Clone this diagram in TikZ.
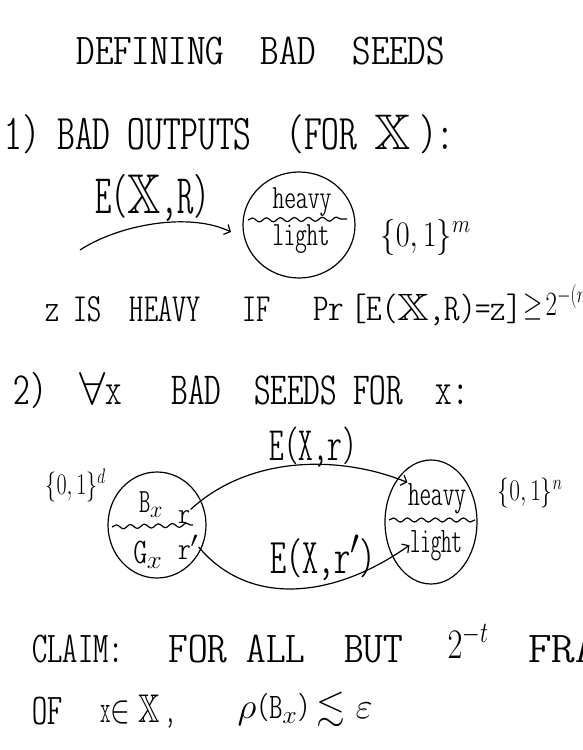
\RequirePackage{fix-cm}
\documentclass[tikz,border=0pt]{standalone}
\usepackage{amssymb}
\usepackage{graphicx}
\usepackage{fontspec}
\newfontfamily\hand{lmmonoltcond10-regular.otf}
\usetikzlibrary{arrows.meta,decorations.pathmorphing}
\newcommand\hw[3]{\resizebox{#1pt}{\height}{\fontsize{#2pt}{#2pt}\selectfont #3}}
\begin{document}
\begin{tikzpicture}[x=1pt,y=-1pt, line width=1.2pt,
  txt/.style={inner sep=0pt, anchor=base west, font=\hand},
  lbl/.style={inner sep=0pt, anchor=base, font=\hand},
  wavy/.style={decorate, decoration={snake, amplitude=2pt, segment length=14pt}},
  tip/.style={-{Straight Barb[length=5pt,width=11pt]}}]
\path[use as bounding box] (0,0) rectangle (582,750);
\clip (0,0) rectangle (582,750);
% title
\node[txt] (title) at (76,64) {\hw{368}{44}{DEFINING\ \ BAD\ \ SEEDS}};
% part 1
\node[txt] (one) at (4,149) {\hw{450}{50}{1)\ BAD OUTPUTS\ \ (FOR $\mathbb{X}$\,):}};
\node[txt] (exr) at (95,213) {\hw{114}{56}{E($\mathbb{X}$,R)}};
\coordinate (c1) at (299,225);
\draw (c1) ellipse [x radius=56pt, y radius=53pt];
\node[lbl] (hv1) at (302,208) {\hw{59}{34}{heavy}};
\node[lbl] (lt1) at (301,245) {\hw{57}{34}{light}};
\draw[wavy] (248,220) -- (347,219);
\coordinate (a0) at (80,250);
\coordinate (a1) at (231,232);
\draw[tip] (a0) .. controls (120,224) and (190,212) .. (a1);
\node[txt] (zo1) at (380,246) {\hw{90}{36}{$\{0,1\}^m$}};
\node[txt] (zh) at (45,321) {\hw{225}{40}{z IS\ \ HEAVY\ \ \ IF}};
\node[txt] (pr) at (313,320) {\hw{208}{38}{Pr\,[E($\mathbb{X}$,R)=z]}};
\node[txt] (ge) at (523,315) {\hw{82}{34}{$\geq\!2^{-(m-}$}};
% part 2
\node[txt] (two) at (13,404) {\hw{455}{46}{2)\ \ $\forall$x\ \ \ BAD\ \ SEEDS FOR\ \ x:}};
\node[txt] (zod) at (45,494) {\hw{60}{30}{$\{0,1\}^d$}};
\coordinate (L) at (157,525);
\draw (L) ellipse [x radius=49pt, y radius=53pt];
\node[lbl] (bx) at (151,512) {\hw{24}{34}{B$_x$}};
\node[lbl] (r1) at (184,523) {\hw{12}{30}{r}};
\draw[wavy] (112,527) -- (193,525);
\node[lbl] (gx) at (148,563) {\hw{29}{36}{G$_x$}};
\node[lbl] (r2) at (188,559) {\hw{20}{32}{r$'$}};
\coordinate (R) at (431,522);
\draw (R) ellipse [x radius=46pt, y radius=62pt];
\node[lbl] (hv2) at (437,505) {\hw{58}{36}{heavy}};
\node[lbl] (lt2) at (436,552) {\hw{52}{36}{light}};
\draw[wavy] (389,520) -- (475,520);
\node[txt] (zon) at (497,500) {\hw{65}{30}{$\{0,1\}^n$}};
\node[txt] (etop) at (269,460) {\hw{87}{48}{E(X,r)}};
\node[txt] (ebot) at (270,573) {\hw{105}{50}{E(X,r$'$)}};
\draw[tip] (r1.north east) .. controls (250,455) and (340,455) .. (hv2.north west);
\draw[tip] (r2.east) .. controls (250,608) and (335,598) .. (lt2.west);
% claim
\node[txt] (cl) at (32,662) {\hw{91}{44}{CLAIM:}};
\node[txt] (fab) at (168,662) {\hw{234}{44}{FOR\ ALL\ \ BUT}};
\node[txt] (tt) at (447,658) {\hw{41}{42}{$2^{-t}$}};
\node[txt] (fra) at (528,662) {\hw{70}{44}{FRA}};
\node[txt] (of) at (32,724) {\hw{30}{44}{OF}};
\node[txt] (xin) at (100,722) {\hw{75}{40}{x$\in\mathbb{X}$\,,}};
\node[txt] (rho) at (237,718) {\hw{135}{36}{$\rho$(B$_x$)\,$\lesssim\varepsilon$}};
\end{tikzpicture}
\end{document}
